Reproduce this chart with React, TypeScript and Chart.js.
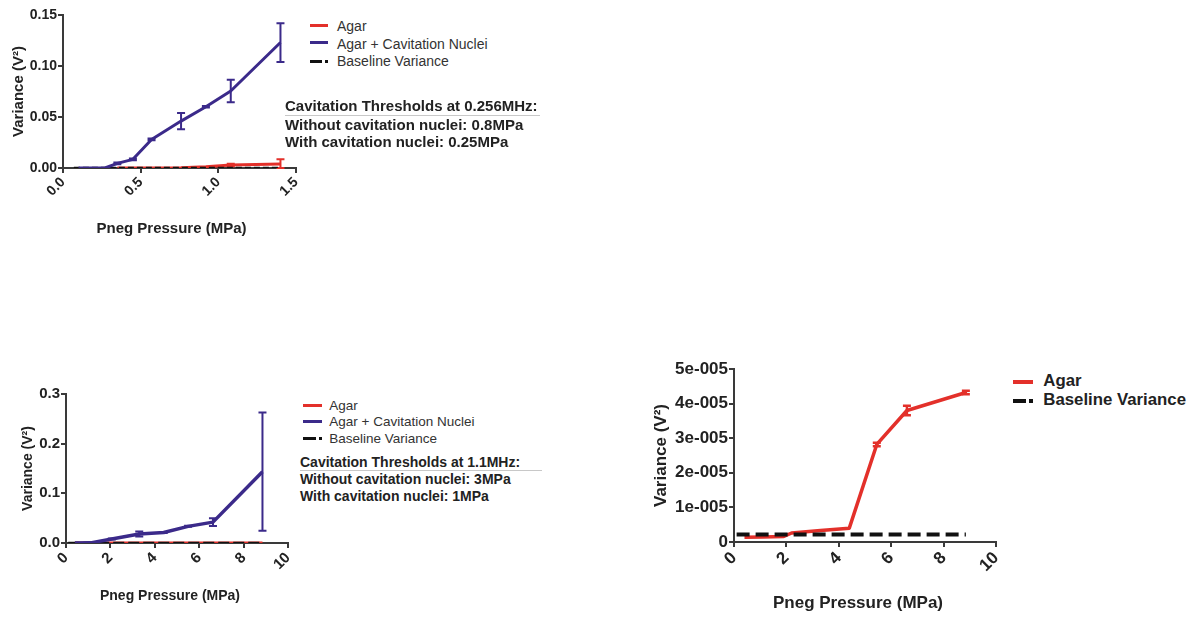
import React, { useEffect, useRef } from 'react';
import { Chart, registerables } from 'chart.js';

Chart.register(...registerables);

const FONT = '"Liberation Sans", Arial, Helvetica, sans-serif';
const RED = '#e3302a';
const PURPLE = '#3b2a8a';
const BLACK = '#111111';
const AXIS = '#3a3a3a';
const TEXT = '#222222';

// ---------- Panel A: 0.256 MHz ----------
const aNucleiPressure = [0.1, 0.18, 0.27, 0.35, 0.45, 0.57, 0.76, 0.92, 1.08, 1.4];
const aNucleiVariance = [0, 0, 0, 0.0045, 0.0085, 0.028, 0.046, 0.06, 0.0755, 0.123];
const aNucleiError = [0, 0, 0, 0.0008, 0.0008, 0.0008, 0.008, 0.0008, 0.011, 0.019];
const aAgarPressure = [0.35, 0.45, 0.57, 0.76, 0.92, 1.08, 1.4];
const aAgarVariance = [0, 0, 0, 0.0003, 0.0012, 0.003, 0.004];
const aAgarError = [0, 0, 0, 0, 0, 0.0012, 0.0045];
const aBaselinePressure = [0.07, 1.4];
const aBaselineVariance = [0.00005, 0.00005];
const aXTicks = ['0.0', '0.5', '1.0', '1.5'];
const aYTicks = ['0.00', '0.05', '0.10', '0.15'];

// ---------- Panel B: 1.1 MHz ----------
const bNucleiPressure = [0.4, 1.1, 2.06, 3.3, 4.4, 5.5, 6.62, 8.85];
const bNucleiVariance = [0, 0.0003, 0.008, 0.018, 0.021, 0.0335, 0.042, 0.1436];
const bNucleiError = [0, 0, 0.001, 0.005, 0.001, 0.001, 0.008, 0.119];
const bXTicks = ['0', '2', '4', '6', '8', '10'];
const bYTicks = ['0.0', '0.1', '0.2', '0.3'];

// ---------- Agar at 1.1 MHz (panels B and C) ----------
const cAgarPressure = [0.4, 1.1, 1.9, 2.2, 3.3, 4.4, 5.45, 6.6, 8.85];
const cAgarVariance = [1.4e-6, 1.45e-6, 1.6e-6, 2.6e-6, 3.3e-6, 4.0e-6, 2.82e-5, 3.8e-5, 4.32e-5];
const cAgarError = [0, 0, 0, 0, 0, 0, 0.05e-5, 0.14e-5, 0.05e-5];
const cBaselinePressure = [0.1, 8.85];
const cBaselineVariance = [2.2e-6, 2.2e-6];
const cXTicks = ['0', '2', '4', '6', '8', '10'];
const cYTicks = ['0', '1e-005', '2e-005', '3e-005', '4e-005', '5e-005'];

const X_TITLE = 'Pneg Pressure (MPa)';
const Y_TITLE = 'Variance (V²)';

const pts = (xs: number[], ys: number[]) => xs.map((x, i) => ({ x, y: ys[i] }));

const errorBarPlugin = {
  id: 'errorBars',
  afterDatasetDraw(chart: any, args: any) {
    const ds: any = chart.data.datasets[args.index];
    const errs: number[] | undefined = ds.errorBars;
    if (!errs) return;
    const { ctx } = chart;
    const xs = chart.scales.x;
    const ys = chart.scales.y;
    const cap = ds.capHalf || 4;
    ctx.save();
    ctx.strokeStyle = ds.borderColor;
    ctx.lineWidth = ds.errorWidth || 2;
    ctx.lineCap = 'butt';
    ds.data.forEach((p: any, i: number) => {
      const e = errs[i];
      if (!e) return;
      const px = xs.getPixelForValue(p.x);
      const top = ys.getPixelForValue(p.y + e);
      const bot = ys.getPixelForValue(Math.max(p.y - e, ys.min));
      ctx.beginPath();
      ctx.moveTo(px, top);
      ctx.lineTo(px, bot);
      ctx.moveTo(px - cap, top);
      ctx.lineTo(px + cap, top);
      ctx.moveTo(px - cap, bot);
      ctx.lineTo(px + cap, bot);
      ctx.stroke();
    });
    ctx.restore();
  },
};

// x-axis title, centred a little off the plot centre as in the original figure
const xTitlePlugin = {
  id: 'xTitle',
  afterDraw(chart: any, _args: any, opts: any) {
    if (!opts || !opts.text) return;
    const { ctx, chartArea } = chart;
    ctx.save();
    ctx.font = `bold ${opts.size}px ${FONT}`;
    ctx.fillStyle = TEXT;
    ctx.textAlign = 'center';
    ctx.textBaseline = 'middle';
    ctx.fillText(opts.text, (chartArea.left + chartArea.right) / 2 + opts.dx, chart.height - opts.fromBottom);
    ctx.restore();
  },
};

type AxisSpec = {
  min: number;
  max: number;
  step: number;
  labels: string[];
};

function buildOptions(o: {
  x: AxisSpec;
  y: AxisSpec;
  padTop: number;
  padRight: number;
  yWidth: number;
  xHeight: number;
  tickSize: number;
  titleSize: number;
  yTitlePad: number;
  xTitleDx: number;
  xTitleFromBottom: number;
}) {
  const tickFont = { family: FONT, size: o.tickSize, weight: 'bold' as const };
  const titleFont = { family: FONT, size: o.titleSize, weight: 'bold' as const, lineHeight: 1.2 };
  const grid = { drawOnChartArea: false, drawTicks: true, tickLength: 5, color: AXIS, lineWidth: 2 };
  const border = { display: true, color: AXIS, width: 2 };
  return {
    animation: false,
    responsive: false,
    maintainAspectRatio: false,
    devicePixelRatio: 1,
    events: [],
    layout: { padding: { top: o.padTop, right: o.padRight, left: 0, bottom: 0 } },
    plugins: {
      legend: { display: false },
      tooltip: { enabled: false },
      xTitle: { text: X_TITLE, size: o.titleSize, dx: o.xTitleDx, fromBottom: o.xTitleFromBottom },
    },
    scales: {
      x: {
        type: 'linear',
        min: o.x.min,
        max: o.x.max,
        afterFit: (s: any) => {
          s.height = o.xHeight;
          s.paddingLeft = 0;
          s.paddingRight = 0;
        },
        ticks: {
          stepSize: o.x.step,
          autoSkip: false,
          minRotation: 45,
          maxRotation: 45,
          padding: 1,
          font: tickFont,
          color: TEXT,
          callback: (_v: any, i: number) => o.x.labels[i],
        },
        grid,
        border,
        title: { display: false },
      },
      y: {
        type: 'linear',
        min: o.y.min,
        max: o.y.max,
        afterFit: (s: any) => {
          s.width = o.yWidth;
          s.paddingTop = 0;
          s.paddingBottom = 0;
        },
        ticks: {
          stepSize: o.y.step,
          autoSkip: false,
          padding: 1,
          font: tickFont,
          color: TEXT,
          callback: (_v: any, i: number) => o.y.labels[i],
        },
        grid,
        border,
        title: {
          display: true,
          text: Y_TITLE,
          font: titleFont,
          color: TEXT,
          padding: { top: o.yTitlePad, bottom: 0 },
        },
      },
    },
  };
}

const lineDs = (label: string, data: any[], color: string, width: number, extra: any = {}) => ({
  label,
  data,
  showLine: true,
  borderColor: color,
  backgroundColor: color,
  borderWidth: width,
  pointRadius: 0,
  borderJoinStyle: 'round',
  tension: 0,
  ...extra,
});

function ChartCanvas({ left, top, width, height, config }: any) {
  const ref = useRef<HTMLCanvasElement | null>(null);
  useEffect(() => {
    if (!ref.current) return;
    const chart = new Chart(ref.current, config);
    return () => chart.destroy();
  }, []);
  return (
    <canvas
      ref={ref}
      width={width}
      height={height}
      style={{ position: 'absolute', left, top, width, height }}
    />
  );
}

function Txt({ x, baseline, size, bold, color, children }: any) {
  return (
    <div
      style={{
        position: 'absolute',
        left: x,
        top: baseline - 0.8465 * size,
        fontFamily: FONT,
        fontSize: size,
        lineHeight: `${size}px`,
        fontWeight: bold ? 'bold' : 'normal',
        color: color || TEXT,
        whiteSpace: 'nowrap',
      }}
    >
      {children}
    </div>
  );
}

function Bar({ x, cy, w, h, color }: any) {
  return (
    <div style={{ position: 'absolute', left: x, top: cy - h / 2, width: w, height: h, background: color }} />
  );
}

function DashDot({ x, cy, w, h }: any) {
  return (
    <>
      <Bar x={x} cy={cy} w={w - h - 3} h={h} color={BLACK} />
      <Bar x={x + w - h} cy={cy} w={h} h={h} color={BLACK} />
    </>
  );
}

export default function App() {
  const configA = {
    type: 'scatter',
    data: {
      datasets: [
        lineDs('Agar + Cavitation Nuclei', pts(aNucleiPressure, aNucleiVariance), PURPLE, 3, { errorBars: aNucleiError }),
        lineDs('Baseline Variance', pts(aBaselinePressure, aBaselineVariance), BLACK, 2.5, { borderDash: [6, 3] }),
        lineDs('Agar', pts(aAgarPressure, aAgarVariance), RED, 3, { errorBars: aAgarError }),
      ],
    },
    options: buildOptions({
      x: { min: 0, max: 1.5, step: 0.5, labels: aXTicks },
      y: { min: 0, max: 0.15, step: 0.05, labels: aYTicks },
      padTop: 15,
      padRight: 4,
      yWidth: 63,
      xHeight: 72,
      tickSize: 14,
      titleSize: 15,
      yTitlePad: 10,
      xTitleDx: -8,
      xTitleFromBottom: 11,
    }),
    plugins: [errorBarPlugin, xTitlePlugin],
  };

  const configB = {
    type: 'scatter',
    data: {
      datasets: [
        lineDs('Agar + Cavitation Nuclei', pts(bNucleiPressure, bNucleiVariance), PURPLE, 3.5, { errorBars: bNucleiError }),
        lineDs('Baseline Variance', pts(cBaselinePressure, cBaselineVariance), BLACK, 2.5, { borderDash: [11, 4] }),
        lineDs('Agar', pts(cAgarPressure, cAgarVariance), RED, 3),
      ],
    },
    options: buildOptions({
      x: { min: 0, max: 10, step: 2, labels: bXTicks },
      y: { min: 0, max: 0.3, step: 0.1, labels: bYTicks },
      padTop: 20,
      padRight: 12,
      yWidth: 66,
      xHeight: 71,
      tickSize: 15,
      titleSize: 14,
      yTitlePad: 20,
      xTitleDx: -7,
      xTitleFromBottom: 17.5,
    }),
    plugins: [errorBarPlugin, xTitlePlugin],
  };

  const configC = {
    type: 'scatter',
    data: {
      datasets: [
        lineDs('Baseline Variance', pts(cBaselinePressure, cBaselineVariance), BLACK, 4, { borderDash: [13, 6] }),
        lineDs('Agar', pts(cAgarPressure, cAgarVariance), RED, 3.5, { errorBars: cAgarError, errorWidth: 2.5 }),
      ],
    },
    options: buildOptions({
      x: { min: 0, max: 10, step: 2, labels: cXTicks },
      y: { min: 0, max: 5e-5, step: 1e-5, labels: cYTicks },
      padTop: 24,
      padRight: 4,
      yWidth: 94,
      xHeight: 75,
      tickSize: 17,
      titleSize: 17,
      yTitlePad: 11,
      xTitleDx: -7,
      xTitleFromBottom: 14,
    }),
    plugins: [errorBarPlugin, xTitlePlugin],
  };

  return (
    <div style={{ position: 'absolute', left: 0, top: 0, width: 1191, height: 617, background: '#fff', overflow: 'hidden' }}>
      <ChartCanvas left={0} top={0} width={300} height={240} config={configA} />
      <ChartCanvas left={0} top={374} width={300} height={240} config={configB} />
      <ChartCanvas left={640} top={345} width={360} height={272} config={configC} />

      {/* Panel A legend */}
      <Bar x={310} cy={25} w={18} h={3} color={RED} />
      <Bar x={310} cy={42.7} w={18} h={3} color={PURPLE} />
      <DashDot x={310} cy={61} w={18} h={3} />
      <Txt x={337} baseline={30.7} size={14} color="#333">Agar</Txt>
      <Txt x={337} baseline={49} size={14} color="#333">Agar + Cavitation Nuclei</Txt>
      <Txt x={337} baseline={66} size={14} color="#333">Baseline Variance</Txt>

      {/* Panel A note */}
      <div style={{ position: 'absolute', left: 285, top: 115, width: 255, height: 1, background: '#c8c8c8' }} />
      <Txt x={285} baseline={111} size={15} bold>Cavitation Thresholds at 0.256MHz:</Txt>
      <Txt x={285} baseline={129.3} size={15} bold>Without cavitation nuclei: 0.8MPa</Txt>
      <Txt x={285} baseline={146.7} size={15} bold>With cavitation nuclei: 0.25MPa</Txt>

      {/* Panel B legend */}
      <Bar x={303} cy={405} w={19} h={3} color={RED} />
      <Bar x={303} cy={421.7} w={19} h={3} color={PURPLE} />
      <DashDot x={303} cy={438.3} w={19} h={3} />
      <Txt x={329.3} baseline={410.7} size={13.5} color="#333">Agar</Txt>
      <Txt x={329.3} baseline={426.7} size={13.5} color="#333">Agar + Cavitation Nuclei</Txt>
      <Txt x={329.3} baseline={443.3} size={13.5} color="#333">Baseline Variance</Txt>

      {/* Panel B note */}
      <div style={{ position: 'absolute', left: 300, top: 470, width: 242, height: 1, background: '#c8c8c8' }} />
      <Txt x={300} baseline={467.3} size={14} bold>Cavitation Thresholds at 1.1MHz:</Txt>
      <Txt x={300} baseline={484.3} size={14} bold>Without cavitation nuclei: 3MPa</Txt>
      <Txt x={300} baseline={501} size={14} bold>With cavitation nuclei: 1MPa</Txt>

      {/* Panel C legend */}
      <Bar x={1012.7} cy={381.7} w={20} h={4} color={RED} />
      <DashDot x={1012.7} cy={401} w={20} h={4} />
      <Txt x={1043.3} baseline={387.3} size={16.8} bold>Agar</Txt>
      <Txt x={1043.3} baseline={406} size={16.8} bold>Baseline Variance</Txt>
    </div>
  );
}
